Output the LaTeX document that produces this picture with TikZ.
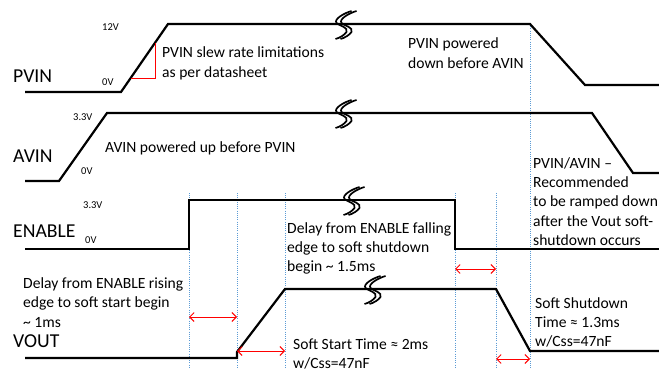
\documentclass[tikz,border=0pt]{standalone}
\usepackage{fontspec}
\setmainfont{Carlito}
\usetikzlibrary{arrows.meta}
\definecolor{guideblue}{RGB}{91,155,213}
\tikzset{
  brkmark/.pic={
    \foreach \dx in {-2.5,2.5}{
      \draw[line width=1.7pt,shift={(\dx,0)}] (8,-13) .. controls (1,-11) and (-10,-5) .. (-7,-1)
        .. controls (-4,2) and (5,3) .. (3,8) .. controls (1,11) and (-4,14) .. (-8,15);
    }
  }
}
\begin{document}
\begin{tikzpicture}[x=1pt,y=-1pt,
  sig/.style={line width=2.2pt, line join=miter},
  guide/.style={draw=guideblue, line width=0.7pt, dash pattern=on 1pt off 1.2pt},
  dim/.style={red, line width=0.9pt, {Straight Barb[length=4.5pt,width=9pt]}-{Straight Barb[length=4.5pt,width=9pt]}},
  lbl/.style={anchor=base west, inner sep=0pt, font=\fontsize{19.7}{22}\selectfont},
  txt/.style={anchor=base west, inner sep=0pt, align=left, font=\fontsize{15.6}{19.4}\selectfont},
  volt/.style={anchor=base west, inner sep=0pt, font=\fontsize{10.5}{12}\selectfont}]
\fill[white] (0,0) rectangle (659,369);
\useasboundingbox (0,0) rectangle (659,369);

% guide lines
\foreach \n/\gx/\gy in {a/189/193, b/237/193, c/285/193, d/455/193, e/496/193, f/530/24}{
  \coordinate (g\n t) at (\gx,\gy);
  \coordinate (g\n b) at (\gx,369);
  \draw[guide] (g\n t) -- (g\n b);
}

% signals
\draw[sig] (25,92) -- (121,92) -- (168,24) -- (530,24) -- (585,85) -- (659,85);
\draw[sig] (25,181) -- (59,181) -- (107,113) -- (592,113) -- (633,173) -- (659,173);
\draw[sig] (25,249) -- (189,249) -- (189,200) -- (455,200) -- (455,249) -- (659,249);
\draw[sig] (25,358) -- (237,358) -- (237,352) -- (285,289) -- (496,289) -- (530,351) -- (659,351);

% break marks
\pic at (346,24) {brkmark};
\pic at (346,113) {brkmark};
\pic at (354,200) {brkmark};
\pic at (375,289) {brkmark};

% slew rate marker
\draw[red, line width=0.9pt] (131,78) -- (155,78) -- (155,43);

% dimension arrows
\coordinate (a1l) at (189,317); \coordinate (a1r) at (237,317);
\coordinate (a2l) at (237,351); \coordinate (a2r) at (285,351);
\coordinate (a3l) at (455,269); \coordinate (a3r) at (496,269);
\coordinate (a4l) at (496,359); \coordinate (a4r) at (530,359);
\draw[dim] (a1l) -- (a1r);
\draw[dim] (a2l) -- (a2r);
\draw[dim] (a3l) -- (a3r);
\draw[dim] (a4l) -- (a4r);

% signal names
\node[lbl] (npvin) at (13,82) {PVIN};
\node[lbl] (navin) at (13,162) {AVIN};
\node[lbl] (nen) at (13,237) {ENABLE};
\node[lbl] (nvout) at (13,347) {VOUT};

% voltage labels
\node[volt] (v1) at (102,31) {12V};
\node[volt] (v2) at (102,85) {0V};
\node[volt] (v3) at (73,121) {3.3V};
\node[volt] (v4) at (81,174) {0V};
\node[volt] (v5) at (83,208) {3.3V};
\node[volt] (v6) at (85,243) {0V};

% annotations (anchored at the baseline of the last line)
\node[txt] (t1) at (162,77.4) {PVIN slew rate limitations\\as per datasheet};
\node[txt] (t2) at (408,68.4) {PVIN powered\\down before AVIN};
\node[txt] (t3) at (105,152) {AVIN powered up before PVIN};
\node[txt] (t4) at (533,245.6) {PVIN/AVIN –\\Recommended\\to be ramped down\\after the Vout soft-\\shutdown occurs};
\node[txt] (t5) at (287,271.8) {Delay from ENABLE falling\\edge to soft shutdown\\begin \char`~\ 1.5ms};
\node[txt] (t6) at (23,327) {Delay from ENABLE rising\\edge to soft start begin\\\char`~\ 1ms};
\node[txt] (t7) at (293,368.4) {Soft Start Time ≈ 2ms\\w/Css=47nF};
\node[txt] (t8) at (535,346.8) {Soft Shutdown\\Time ≈ 1.3ms\\w/Css=47nF};
\end{tikzpicture}
\end{document}
